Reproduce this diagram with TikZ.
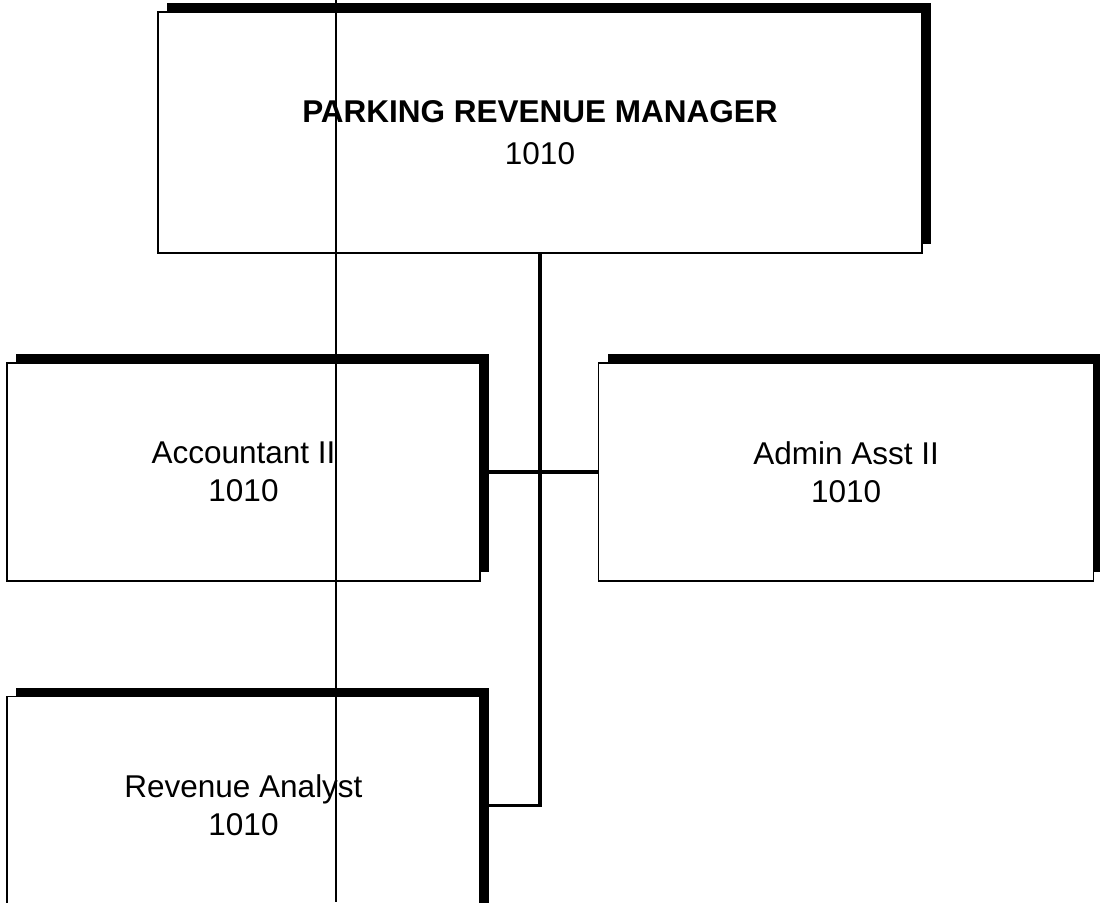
\documentclass[tikz,border=0pt]{standalone}
\usepackage{fontspec}
\setmainfont{Liberation Sans}
\usepackage{tikz}
\usetikzlibrary{shadows,positioning}

\begin{document}
\begin{tikzpicture}[x=0.5pt,y=-0.5pt,
post/.style={
% The shape:
rectangle,
minimum width=236.5pt,minimum height=109pt,inner sep=0pt,
% The rest
draw=black,line width=0.8pt,fill=white,
drop shadow={shadow xshift=4.5pt,shadow yshift=4.5pt,fill=black,opacity=1},
align=center,font=\fontsize{15.75pt}{19pt}\selectfont},
head/.style={post,minimum width=382pt,minimum height=120.5pt,
font=\fontsize{15.75pt}{21pt}\selectfont\bfseries},
link/.style={line width=1.6pt}]

\useasboundingbox (0,0) rectangle (1100,902);

\node (Mgr) [head] at (540,132.5) {PARKING REVENUE MANAGER\\\mdseries 1010};
\node (Acct) [post] at (243.5,472) {Accountant II\\1010};
\node (Admin) [post,minimum width=247.5pt,right=58.5pt of Acct] {Admin Asst II\\1010};
\node (Rev) [post,below=57pt of Acct] {Revenue Analyst\\1010};

\draw[link] (Mgr.south) |- (Rev.east); % trunk
\draw[link] (Acct.east) -- (Admin.west);

% scan line
\draw[line width=0.6pt] (336,0) -- (336,902);

\end{tikzpicture}
\end{document}
